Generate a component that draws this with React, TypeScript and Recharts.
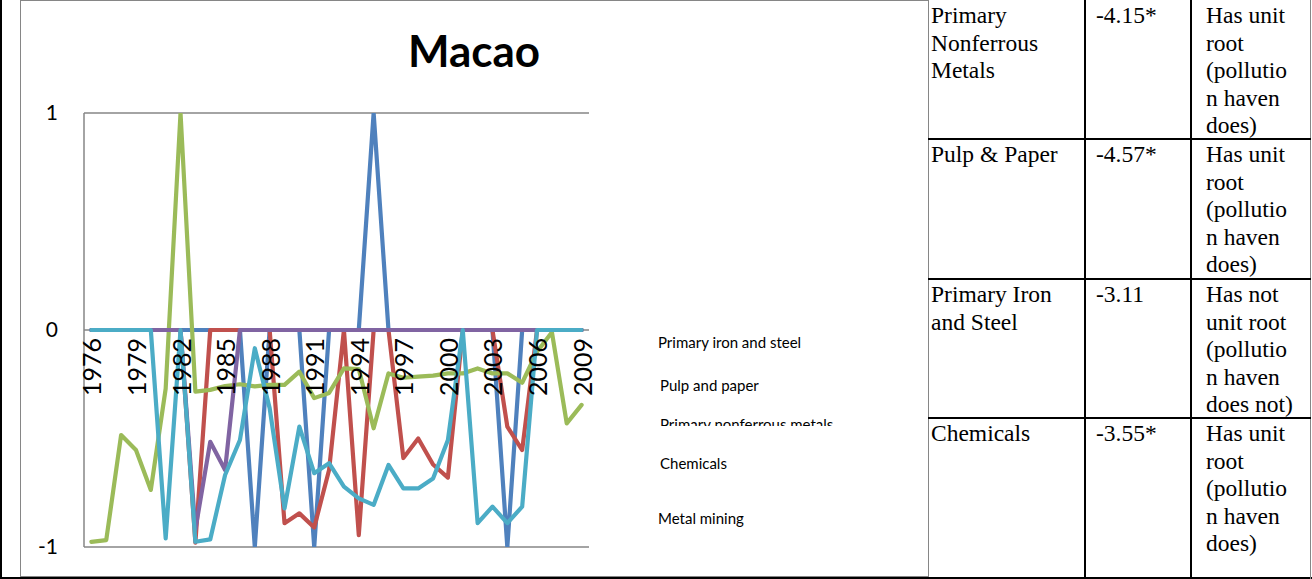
import React from 'react';
import { LineChart, Line, XAxis, YAxis, CartesianGrid, Legend } from 'recharts';

// Years on the category axis
const years = [
  '1976', '1977', '1978', '1979', '1980', '1981', '1982', '1983', '1984', '1985',
  '1986', '1987', '1988', '1989', '1990', '1991', '1992', '1993', '1994', '1995',
  '1996', '1997', '1998', '1999', '2000', '2001', '2002', '2003', '2004', '2005',
  '2006', '2007', '2008', '2009',
];

// Series values, one per year
const primaryIronSteel = [
  0, 0, 0, 0, 0, 0, 0, 0, 0, 0,
  0, -1, 0, 0, 0, -1, 0, 0, 0, 1,
  0, 0, 0, 0, 0, 0, 0, 0, -1, 0,
  0, 0, 0, 0,
];
const pulpPaper = [
  0, 0, 0, 0, 0, 0, 0, -0.98, 0, 0,
  0, 0, 0, -0.89, -0.845, -0.91, -0.645, 0, -0.945, 0,
  0, -0.59, -0.5, -0.62, -0.68, 0, 0, 0, -0.445, -0.553,
  0, 0, 0, 0,
];
const primaryNonferrous = [
  -0.976, -0.968, -0.484, -0.553, -0.737, -0.27, 1, -0.284, -0.276, -0.258,
  -0.25, -0.26, -0.253, -0.253, -0.192, -0.314, -0.29, -0.177, -0.18, -0.453,
  -0.2, -0.22, -0.215, -0.21, -0.2, -0.2, -0.177, -0.2, -0.2, -0.243,
  -0.1, -0.01, -0.43, -0.345,
];
const chemicals = [
  0, 0, 0, 0, 0, 0, 0, -0.92, -0.515, -0.645,
  0, 0, 0, 0, 0, 0, 0, 0, 0, 0,
  0, 0, 0, 0, 0, 0, 0, 0, 0, 0,
  0, 0, 0, 0,
];
const metalMining = [
  0, 0, 0, 0, 0, -0.96, 0, -0.976, -0.965, -0.668,
  -0.507, -0.084, -0.36, -0.822, -0.445, -0.66, -0.614, -0.722, -0.776, -0.806,
  -0.622, -0.73, -0.73, -0.684, -0.507, 0, -0.89, -0.814, -0.89, -0.814,
  0, 0, 0, 0,
];

const seriesKeys = ['ironSteel', 'pulpPaper', 'nonferrous', 'chemicals', 'metalMining'];
const seriesNames = [
  'Primary iron and steel',
  'Pulp and paper',
  'Primary nonferrous metals',
  'Chemicals',
  'Metal mining',
];
const seriesColors = ['#4F81BD', '#C0504D', '#9BBB59', '#8064A2', '#4BACC6'];
const seriesValues = [primaryIronSteel, pulpPaper, primaryNonferrous, chemicals, metalMining];

const yTicks = [-1, 0, 1];

// Unit-root test table beside the chart
const tableIndustry = [
  ['Primary', 'Nonferrous', 'Metals'],
  ['Pulp & Paper'],
  ['Primary Iron', 'and Steel'],
  ['Chemicals'],
];
const tableStatistic = ['-4.15*', '-4.57*', '-3.11', '-3.55*'];
const tableResult = [
  ['Has unit', 'root', '(pollutio', 'n haven', 'does)'],
  ['Has unit', 'root', '(pollutio', 'n haven', 'does)'],
  ['Has not', 'unit root', '(pollutio', 'n haven', 'does not)'],
  ['Has unit', 'root', '(pollutio', 'n haven', 'does)'],
];

const chartData = years.map((year, i) => {
  const row: Record<string, string | number> = { year };
  seriesKeys.forEach((k, s) => {
    row[k] = seriesValues[s][i];
  });
  return row;
});

const CHART_W = 928;
const CHART_H = 577;
const PLOT_TOP = 113;
const PLOT_BOTTOM = 547;
const ZERO_Y = (PLOT_TOP + PLOT_BOTTOM) / 2;
const AXIS_GRAY = '#868686';
const SANS = 'Lato, "Open Sans", sans-serif';
const SERIF = '"Liberation Serif", "Times New Roman", serif';

// Year labels sit just under the zero line, rotated to read bottom-up
const YearTick = (props: any) => {
  const { x, payload } = props;
  return (
    <text
      x={0}
      y={0}
      transform={`translate(${x},${ZERO_Y + 8}) rotate(-90)`}
      textAnchor="end"
      dominantBaseline="central"
      fontFamily={SANS}
      fontSize={25}
      fill="#000"
    >
      {payload.value}
    </text>
  );
};

// Legend entries: text only, placed down the right side of the chart
const legendPlacement = [
  { left: 658, top: 332, clip: 0 },
  { left: 660, top: 375, clip: 0 },
  { left: 660, top: 414, clip: 12 },
  { left: 660, top: 453, clip: 0 },
  { left: 658, top: 508, clip: 0 },
];

const LegendText = () => (
  <div style={{ position: 'absolute', left: 0, top: 0 }}>
    {seriesNames.map((name, i) => {
      const p = legendPlacement[i];
      return (
        <div
          key={name}
          style={{
            position: 'absolute',
            left: p.left,
            top: p.top,
            height: p.clip ? p.clip : 20,
            overflow: 'hidden',
            whiteSpace: 'nowrap',
            fontFamily: SANS,
            fontSize: 15,
            lineHeight: '20px',
            color: '#000',
          }}
        >
          {name}
        </div>
      );
    })}
  </div>
);

const colText = [931, 1096, 1206];
const rowTop = [0, 139, 279, 418];

export default function App() {
  return (
    <div
      style={{
        position: 'absolute',
        left: 0,
        top: 0,
        width: 1312,
        height: 579,
        background: '#fff',
        overflow: 'hidden',
      }}
    >
      {/* chart frame */}
      <div
        style={{
          position: 'absolute',
          left: 20,
          top: 0,
          width: 909,
          height: 577,
          boxSizing: 'border-box',
          border: `1.5px solid ${AXIS_GRAY}`,
        }}
      />
      <div
        style={{
          position: 'absolute',
          left: 0,
          top: 28,
          width: 948,
          textAlign: 'center',
          fontFamily: SANS,
          fontWeight: 700,
          fontSize: 44,
          lineHeight: '44px',
          color: '#000',
        }}
      >
        Macao
      </div>
      <div style={{ position: 'absolute', left: 0, top: 0 }}>
        <LineChart
          width={CHART_W}
          height={CHART_H}
          data={chartData}
          margin={{ top: PLOT_TOP, right: CHART_W - 589, bottom: 0, left: 0 }}
        >
          <CartesianGrid vertical={false} stroke={AXIS_GRAY} strokeWidth={1.5} />
          <XAxis
            dataKey="year"
            interval={2}
            axisLine={false}
            tickLine={false}
            tickSize={0}
            height={CHART_H - PLOT_BOTTOM}
            padding={{ left: 7.4, right: 7.4 }}
            tick={<YearTick />}
          />
          <YAxis
            width={84}
            domain={[-1, 1]}
            ticks={yTicks}
            allowDataOverflow
            axisLine={{ stroke: AXIS_GRAY, strokeWidth: 1.5 }}
            tickLine={false}
            tickSize={0}
            tickMargin={26}
            tick={{ fontFamily: SANS, fontSize: 21, fill: '#000' }}
          />
          <Legend
            layout="vertical"
            align="center"
            verticalAlign="middle"
            wrapperStyle={{ left: 0, top: 0, width: 0, height: 0 }}
            content={<LegendText />}
          />
          {seriesKeys.map((k, i) => (
            <Line
              key={k}
              type="linear"
              dataKey={k}
              name={seriesNames[i]}
              stroke={seriesColors[i]}
              strokeWidth={4.2}
              strokeLinejoin="round"
              strokeLinecap="round"
              dot={false}
              activeDot={false}
              isAnimationActive={false}
            />
          ))}
        </LineChart>
      </div>

      {/* table grid */}
      <div style={{ position: 'absolute', left: 0, top: 0, width: 2, height: 579, background: '#000' }} />
      <div style={{ position: 'absolute', left: 0, top: 577, width: 1312, height: 2, background: '#000' }} />
      <div style={{ position: 'absolute', left: 1084, top: 0, width: 2, height: 579, background: '#000' }} />
      <div style={{ position: 'absolute', left: 1190, top: 0, width: 2, height: 579, background: '#000' }} />
      <div style={{ position: 'absolute', left: 1310, top: 0, width: 1, height: 579, background: AXIS_GRAY }} />
      {rowTop.slice(1).map((t) => (
        <div
          key={t}
          style={{ position: 'absolute', left: 928, top: t - 1, width: 383, height: 2, background: '#000' }}
        />
      ))}

      {/* table text */}
      {rowTop.map((t, r) => {
        const cells = [tableIndustry[r], [tableStatistic[r]], tableResult[r]];
        return cells.map((lines, c) => (
          <div
            key={`${r}-${c}`}
            style={{
              position: 'absolute',
              left: colText[c],
              top: t + 2,
              fontFamily: SERIF,
              fontSize: 23.5,
              lineHeight: '27.6px',
              color: '#000',
              whiteSpace: 'nowrap',
            }}
          >
            {lines.map((ln, j) => (
              <div key={j}>{ln}</div>
            ))}
          </div>
        ));
      })}
    </div>
  );
}
